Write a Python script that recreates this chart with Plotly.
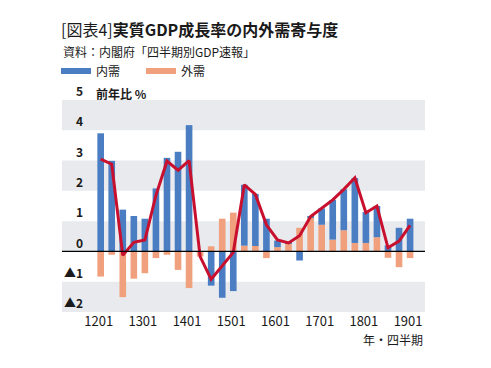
import plotly.graph_objects as go

quarters = ['1201', '1202', '1203', '1204', '1301', '1302', '1303', '1304',
            '1401', '1402', '1403', '1404', '1501', '1502', '1503', '1504',
            '1601', '1602', '1603', '1604', '1701', '1702', '1703', '1704',
            '1801', '1802', '1803', '1804', '1901']
domestic = [3.90, 2.99, 1.38, 1.17, 1.08, 2.08, 3.09, 3.29, 4.17, 0.00,
            -1.13, -1.53, -1.31, 2.01, 1.72, 1.08, 0.22, 0.03, -0.30, 0.05,
            0.54, 1.31, 1.35, 2.14, 1.02, 1.03, 0.20, 0.78, 1.08]
external = [-0.83, -0.11, -1.51, -0.90, -0.72, -0.22, -0.11, -0.61, -1.21, -0.17,
            0.17, 1.08, 1.28, 0.19, 0.18, -0.22, 0.14, 0.25, 0.78, 1.12,
            0.88, 0.39, 0.70, 0.28, 0.28, 0.47, -0.21, -0.52, -0.22]
gdp_growth = [3.05, 2.88, -0.13, 0.30, 0.38, 1.85, 2.98, 2.68, 3.00, -0.17,
              -0.92, -0.48, -0.03, 2.20, 1.88, 0.88, 0.38, 0.28, 0.52, 1.15,
              1.44, 1.70, 2.05, 2.43, 1.28, 1.50, 0.12, 0.34, 0.86]
x_ticks = ['1201', '1301', '1401', '1501', '1601', '1701', '1801', '1901']
y_ticks = [-2, -1, 0, 1, 2, 3, 4, 5]
y_ticktext = ['▲2', '▲1', '0', '1', '2', '3', '4', '5']

BLUE = '#4a7dc1'
ORANGE = '#f0a07d'
RED = '#c8102e'
BAND = '#e8eaee'
FONT = 'Noto Sans CJK JP'
TXT = '#1a1a1a'

fig = go.Figure()
fig.add_trace(go.Bar(x=quarters, y=external, marker_color=ORANGE, marker_line_width=0,
                     name='外需', showlegend=False))
fig.add_trace(go.Bar(x=quarters, y=domestic, marker_color=BLUE, marker_line_width=0,
                     name='内需', showlegend=False))
fig.add_trace(go.Scatter(x=quarters, y=gdp_growth, mode='lines',
                         line=dict(color=RED, width=3), showlegend=False, name='GDP'))
# legend entries
fig.add_trace(go.Scatter(x=[None], y=[None], mode='lines', name='内需',
                         line=dict(color=BLUE, width=6)))
fig.add_trace(go.Scatter(x=[None], y=[None], mode='lines', name='外需',
                         line=dict(color=ORANGE, width=6)))

shapes = []
for v in y_ticks[::2]:
    shapes.append(dict(type='rect', xref='paper', x0=0, x1=1, yref='y', y0=v, y1=v + 1,
                       fillcolor=BAND, line_width=0, layer='below'))
shapes.append(dict(type='line', xref='paper', x0=0, x1=1, yref='y', y0=0, y1=0,
                   line=dict(color='black', width=1.3), layer='above'))

H = 212.0
def py(pix):
    return (312.0 - pix) / H

def px(pix):
    return (pix - 62.0) / 363.0

fig.update_layout(
    width=491, height=368,
    margin=dict(l=62, r=66, t=100, b=56, autoexpand=False),
    paper_bgcolor='white', plot_bgcolor='white',
    barmode='relative', bargap=0.4,
    font=dict(family=FONT, color=TXT, size=12),
    title=dict(text='[図表4]<b>実質GDP成長率の内外需寄与度</b>',
               xref='container', yref='container', x=61 / 491, y=1 - 30 / 368,
               xanchor='left', yanchor='middle',
               font=dict(family=FONT, size=16, color=TXT)),
    showlegend=True,
    legend=dict(orientation='h', x=px(56), xanchor='left', y=py(71), yanchor='middle',
                entrywidth=40, entrywidthmode='pixels',
                font=dict(family=FONT, size=12, color=TXT), itemsizing='trace',
                bgcolor='rgba(0,0,0,0)'),
    xaxis=dict(type='category', range=[-3.5, 29.35], tickvals=x_ticks, ticktext=x_ticks,
               showgrid=False, showline=False, ticks='', zeroline=False,
               tickfont=dict(family=FONT, size=13, color=TXT), ticklabelshift=-2),
    yaxis=dict(range=[-2, 5], tickvals=y_ticks, ticktext=y_ticktext,
               showgrid=False, zeroline=False, showline=False, ticks='',
               ticklabelposition='outside', ticklabelshift=-8, ticklabelstandoff=-22,
               tickfont=dict(family=FONT, size=12, color=TXT, weight='bold'),
               automargin=False),
    shapes=shapes,
    annotations=[
        dict(text='資料：内閣府「四半期別GDP速報」', xref='paper', yref='paper',
             x=px(61), y=py(51), xanchor='left', yanchor='middle', showarrow=False,
             font=dict(family=FONT, size=12, color=TXT)),
        dict(text='<b>前年比 %</b>', xref='paper', yref='paper',
             x=px(94), y=py(93), xanchor='left', yanchor='middle', showarrow=False,
             font=dict(family=FONT, size=12, color=TXT)),
        dict(text='年・四半期', xref='paper', yref='paper',
             x=px(425), y=py(339), xanchor='right', yanchor='middle', showarrow=False,
             font=dict(family=FONT, size=12, color=TXT)),
    ],
)

fig.write_html('out.html', config={'displayModeBar': False},
               post_script="document.body.style.margin='0px';")
